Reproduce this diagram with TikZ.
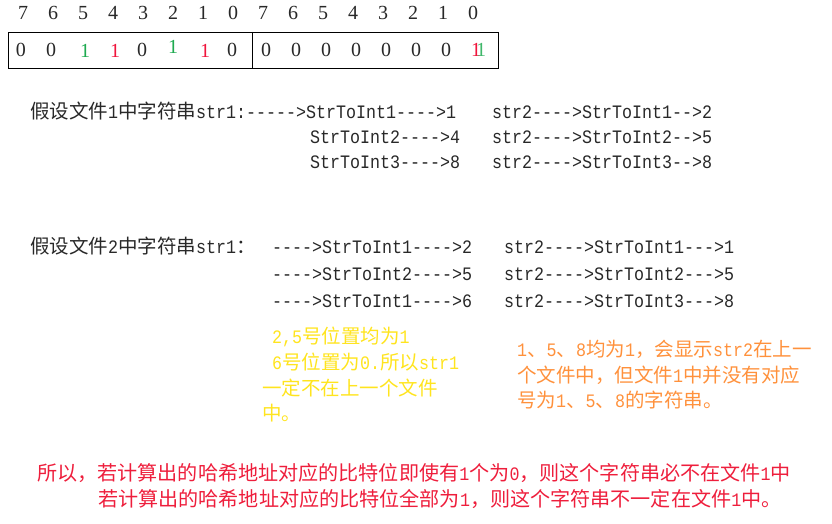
\documentclass[tikz,border=0pt]{standalone}
\usepackage{fontspec}
\setmainfont{Liberation Mono}[FakeStretch=0.8772,Ligatures=TeXOff]
\newfontfamily\digfont{Liberation Serif}
\newfontfamily\cjkfont{Noto Sans CJK SC}
\newcommand\zh[1]{{\cjkfont\fontsize{19.5pt}{22pt}\selectfont #1}}
\newcommand\zhb[1]{{\cjkfont\fontsize{20.1pt}{22pt}\selectfont #1}}
\definecolor{bitgreen}{RGB}{30,170,80}
\definecolor{bitred}{RGB}{240,20,60}
\definecolor{noteyellow}{RGB}{255,228,30}
\definecolor{noteorange}{RGB}{255,145,60}
\definecolor{concl}{RGB}{238,30,60}
\definecolor{txt}{RGB}{40,40,40}
\tikzset{
  txtline/.style={anchor=west,inner sep=0pt,text height=13pt,text depth=0pt,text=txt,font=\fontsize{19pt}{22pt}\selectfont},
  dig/.style={inner sep=0pt,text height=13pt,text depth=0pt,text=txt,font=\digfont\fontsize{20pt}{22pt}\selectfont},
  bitbox/.style={draw=black,line width=0.8pt},
}
\begin{document}
\begin{tikzpicture}[x=1pt,y=-1pt]
\useasboundingbox (0,0) rectangle (832,524);
% top index row
\foreach \d [count=\i from 0] in {7,6,5,4,3,2,1,0,7,6,5,4,3,2,1,0}{
  \node[dig] (idx\i) at ({23+30*\i},13) {\d};
}
% bit box
\draw[bitbox] (8,32) rectangle (498,68);
\draw[bitbox] (252,32) -- (252,68);
\node[dig] (b0) at (21,50) {0};
\node[dig] (b1) at (51,50) {0};
\node[dig,text=bitgreen] (b2) at (85,51) {1};
\node[dig,text=bitred] (b3) at (115,51) {1};
\node[dig] (b4) at (142,50) {0};
\node[dig,text=bitgreen] (b5) at (173,47) {1};
\node[dig,text=bitred] (b6) at (205,51) {1};
\node[dig] (b7) at (232,50) {0};
\foreach \k in {0,...,6}{
  \node[dig] (c\k) at ({266+30*\k},50) {0};
}
\node[dig,text=bitred] (c7r) at (476,50) {1};
\node[dig,text=bitgreen,opacity=0.85] (c7g) at (481,50) {1};
% section 1
\node[txtline] (s1a) at (30,112) {\zh{假设文件}1\zh{中字符串}str1:----->StrToInt1---->1};
\node[txtline] (s1b) at (310,137) {StrToInt2---->4};
\node[txtline] (s1c) at (310,162) {StrToInt3---->8};
\node[txtline] (s1d) at (492,112) {str2---->StrToInt1-->2};
\node[txtline] (s1e) at (492,137) {str2---->StrToInt2-->5};
\node[txtline] (s1f) at (492,162) {str2---->StrToInt3-->8};
% section 2
\node[txtline] (s2a) at (30,247) {\zh{假设文件}2\zh{中字符串}str1\zh{：}};
\node[txtline] (s2b) at (272,247) {---->StrToInt1---->2};
\node[txtline] (s2c) at (272,274) {---->StrToInt2---->5};
\node[txtline] (s2d) at (272,301) {---->StrToInt1---->6};
\node[txtline] (s2e) at (504,247) {str2---->StrToInt1--->1};
\node[txtline] (s2f) at (504,274) {str2---->StrToInt2--->5};
\node[txtline] (s2g) at (504,301) {str2---->StrToInt3--->8};
% yellow note
\node[txtline,text=noteyellow] (y1) at (272,337) {2,5\zh{号位置均为}1};
\node[txtline,text=noteyellow] (y2) at (272,363) {6\zh{号位置为}0.\zh{所以}str1};
\node[txtline,text=noteyellow] (y3) at (262,389) {\zh{一定不在上一个文件}};
\node[txtline,text=noteyellow] (y4) at (262,414) {\zh{中。}};
% orange note
\node[txtline,text=noteorange] (o1) at (517,350) {1\zh{、}5\zh{、}8\zh{均为}1\zh{，会显示}str2\zh{在上一}};
\node[txtline,text=noteorange] (o2) at (517,376) {\zh{个文件中，但文件}1\zh{中并没有对应}};
\node[txtline,text=noteorange] (o3) at (517,401) {\zh{号为}1\zh{、}5\zh{、}8\zh{的字符串。}};
% conclusion
\node[txtline,text=concl] (k1) at (37,474) {\zhb{所以，若计算出的哈希地址对应的比特位即使有}1\zhb{个为}0\zhb{，则这个字符串必不在文件}1\zhb{中}};
\node[txtline,text=concl] (k2) at (98,500) {\zhb{若计算出的哈希地址对应的比特位全部为}1\zhb{，则这个字符串不一定在文件}1\zhb{中。}};
\end{tikzpicture}
\end{document}
